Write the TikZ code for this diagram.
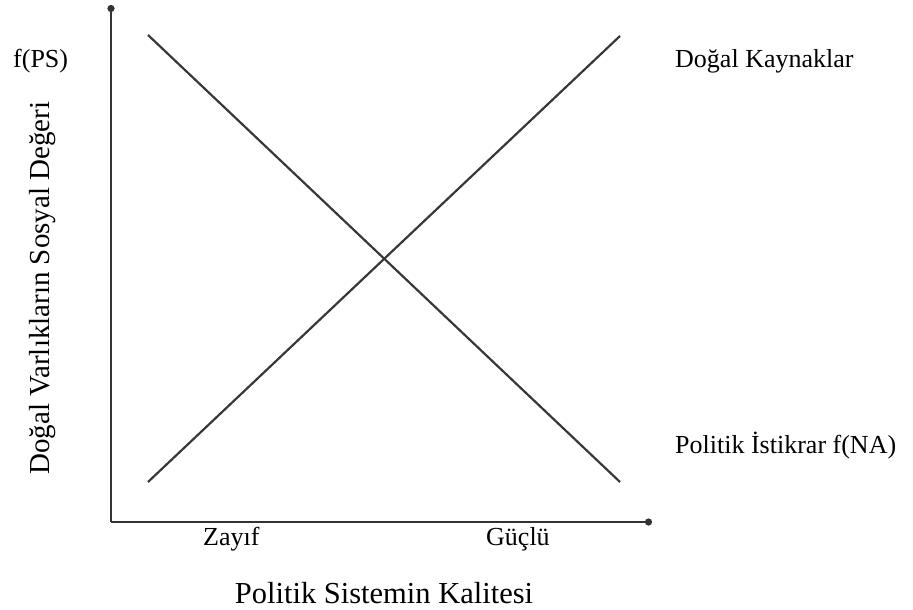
\documentclass[tikz,border=0pt]{standalone}
\usepackage{fontspec}
\setmainfont{Liberation Serif}
\usetikzlibrary{arrows.meta}
\begin{document}
\begin{tikzpicture}[x=1pt,y=-1pt,
  axisline/.style={draw=black!80,line width=2.6pt,-{Circle[length=7pt]}},
  curve/.style={draw=black!78,line width=2.2pt},
  lbl/.style={anchor=base west,inner sep=0pt,font=\fontsize{26}{30}\selectfont},
  ttl/.style={inner sep=0pt,font=\fontsize{30.5}{34}\selectfont}]
\useasboundingbox (0,0) rectangle (913,610);
\coordinate (O) at (111,522);
\coordinate (ytop) at (111,5);
\coordinate (xend) at (652,522);
\draw[axisline] (O) -- (ytop);
\draw[axisline] (O) -- (xend);
\coordinate (a1) at (148,35);
\coordinate (a2) at (620,482);
\coordinate (b1) at (148,482);
\coordinate (b2) at (620,36);
\draw[curve] (a1) -- (a2);
\draw[curve] (b1) -- (b2);
\node[lbl] (fps) at (13,67) {f(PS)};
\node[lbl] (dk) at (675,67) {Doğal Kaynaklar};
\node[lbl] (pi) at (675,453) {Politik İstikrar f(NA)};
\node[lbl] (zy) at (203,545) {Zayıf};
\node[lbl] (gc) at (486,545) {Güçlü};
\node[ttl,anchor=base] (xt) at (384,603) {Politik Sistemin Kalitesi};
\node[inner sep=0pt,font=\fontsize{29}{33}\selectfont,anchor=base,rotate=90] (yt) at (49,288) {Doğal Varlıkların Sosyal Değeri};
\end{tikzpicture}
\end{document}
